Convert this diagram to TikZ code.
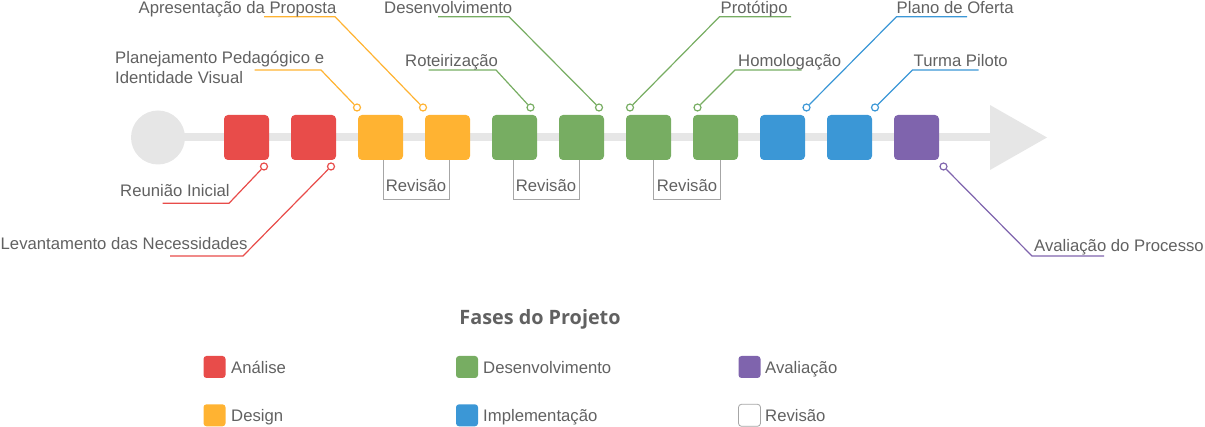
\documentclass[tikz,border=0pt]{standalone}
\usepackage{fontspec}
\setmainfont{Liberation Sans}
\newfontfamily\titlefont{Open Sans}
\definecolor{cred}{HTML}{E84C4A}
\definecolor{corange}{HTML}{FFB332}
\definecolor{cgreen}{HTML}{77AD62}
\definecolor{cblue}{HTML}{3B97D6}
\definecolor{cpurple}{HTML}{7F64AD}
\definecolor{lgray}{HTML}{E6E6E6}
\definecolor{txt}{HTML}{616161}
\definecolor{brk}{HTML}{A6A6A6}
\tikzset{
  sq/.style={rectangle, rounded corners=4, minimum size=45, inner sep=0},
  mk/.style={circle, draw, fill=white, line width=1.2, minimum size=7, inner sep=0},
  lbl/.style={anchor=base west, inner sep=0, text=txt, font=\fontsize{16.7}{19}\selectfont},
  lblc/.style={anchor=base, inner sep=0, text=txt, font=\fontsize{16.7}{19}\selectfont},
  co/.style={line width=1.2},
  brline/.style={brk, line width=1},
  sw/.style={rectangle, rounded corners=3, minimum size=22, inner sep=0},
}
\begin{document}
\begin{tikzpicture}[x=1pt,y=-1pt]
\useasboundingbox (0,0) rectangle (1205,427);
% axis
\node[circle, fill=lgray, minimum size=54, inner sep=0] (start) at (158,137.5) {};
\coordinate (abase) at (992,137.5);
\draw[lgray, line width=8] (start.center) -- (abase);
\fill[lgray] (990,105) -- (1047,137.5) -- (990,170) -- cycle;
% squares
\node[sq, fill=cred] (s1) at (246.5,137.5) {};
\node[sq, fill=cred] (s2) at (313.5,137.5) {};
\node[sq, fill=corange] (s3) at (380.5,137.5) {};
\node[sq, fill=corange] (s4) at (447.5,137.5) {};
\node[sq, fill=cgreen] (s5) at (514.5,137.5) {};
\node[sq, fill=cgreen] (s6) at (581.5,137.5) {};
\node[sq, fill=cgreen] (s7) at (648.5,137.5) {};
\node[sq, fill=cgreen] (s8) at (715.5,137.5) {};
\node[sq, fill=cblue] (s9) at (782.5,137.5) {};
\node[sq, fill=cblue] (s10) at (849.5,137.5) {};
\node[sq, fill=cpurple] (s11) at (916.5,137.5) {};
% review brackets
\coordinate (ra1) at (383,160); \coordinate (ra2) at (383,200); \coordinate (ra3) at (449,200); \coordinate (ra4) at (449,160);
\draw[brline] (ra1) -- (ra2) -- (ra3) -- (ra4);
\node[lblc] (rv1) at (416,191.7) {Revisão};
\coordinate (rb1) at (513,160); \coordinate (rb2) at (513,200); \coordinate (rb3) at (579.5,200); \coordinate (rb4) at (579.5,160);
\draw[brline] (rb1) -- (rb2) -- (rb3) -- (rb4);
\node[lblc] (rv2) at (546,191.7) {Revisão};
\coordinate (rc1) at (653.5,160); \coordinate (rc2) at (653.5,200); \coordinate (rc3) at (720,200); \coordinate (rc4) at (720,160);
\draw[brline] (rc1) -- (rc2) -- (rc3) -- (rc4);
\node[lblc] (rv3) at (687,191.7) {Revisão};
% top callouts
\node[mk, draw=corange] (m1) at (357,107.5) {};
\coordinate (e1) at (321,70); \coordinate (f1) at (254.5,70);
\draw[co, corange] (m1) -- (e1) -- (f1);
\node[lbl] (t1a) at (115,63.3) {Planejamento Pedagógico e};
\node[lbl] (t1b) at (115,83.3) {Identidade Visual};

\node[mk, draw=corange] (m2) at (423,107.5) {};
\coordinate (e2) at (335,16.7); \coordinate (f2) at (264,16.7);
\draw[co, corange] (m2) -- (e2) -- (f2);
\node[lbl] (t2) at (138.5,14) {Apresentação da Proposta};

\node[mk, draw=cgreen] (m3) at (530.5,107.5) {};
\coordinate (e3) at (496,70); \coordinate (f3) at (428.5,70);
\draw[co, cgreen] (m3) -- (e3) -- (f3);
\node[lbl] (t3) at (405,66.7) {Roteirização};

\node[mk, draw=cgreen] (m4) at (599,107.5) {};
\coordinate (e4) at (509,16.7); \coordinate (f4) at (438,16.7);
\draw[co, cgreen] (m4) -- (e4) -- (f4);
\node[lbl] (t4) at (384,14) {Desenvolvimento};

\node[mk, draw=cgreen] (m5) at (630,107.5) {};
\coordinate (e5) at (719.5,16.7); \coordinate (f5) at (791,16.7);
\draw[co, cgreen] (m5) -- (e5) -- (f5);
\node[lbl] (t5) at (720.5,14) {Protótipo};

\node[mk, draw=cgreen] (m6) at (697.5,107.5) {};
\coordinate (e6) at (735,70); \coordinate (f6) at (801.5,70);
\draw[co, cgreen] (m6) -- (e6) -- (f6);
\node[lbl] (t6) at (738,66.7) {Homologação};

\node[mk, draw=cblue] (m7) at (806.5,107.5) {};
\coordinate (e7) at (896.5,16.7); \coordinate (f7) at (967,16.7);
\draw[co, cblue] (m7) -- (e7) -- (f7);
\node[lbl] (t7) at (896.5,14) {Plano de Oferta};

\node[mk, draw=cblue] (m8) at (875,107.5) {};
\coordinate (e8) at (912.5,70); \coordinate (f8) at (978.5,70);
\draw[co, cblue] (m8) -- (e8) -- (f8);
\node[lbl] (t8) at (913.5,66.7) {Turma Piloto};
% bottom callouts
\node[mk, draw=cred] (m9) at (264,166.5) {};
\coordinate (e9) at (229,203.3); \coordinate (f9) at (162.5,203.3);
\draw[co, cred] (m9) -- (e9) -- (f9);
\node[lbl] (t9) at (120,197) {Reunião Inicial};

\node[mk, draw=cred] (m10) at (331,166.5) {};
\coordinate (e10) at (243,256); \coordinate (f10) at (170,256);
\draw[co, cred] (m10) -- (e10) -- (f10);
\node[lbl] (t10) at (0.5,250) {Levantamento das Necessidades};

\node[mk, draw=cpurple] (m11) at (943.5,166.5) {};
\coordinate (e11) at (1032,256); \coordinate (f11) at (1104,256);
\draw[co, cpurple] (m11) -- (e11) -- (f11);
\node[lbl] (t11) at (1034,251.7) {Avaliação do Processo};
% legend
\node[anchor=base, inner sep=0, text=txt, font=\titlefont\bfseries\fontsize{19.8}{23}\selectfont] (title) at (540,325) {Fases do Projeto};
\node[sw, fill=cred] (l1) at (214.5,367) {};
\node[lbl] (lt1) at (231,373.3) {Análise};
\node[sw, fill=corange] (l2) at (214.5,415.3) {};
\node[lbl] (lt2) at (231,421.3) {Design};
\node[sw, fill=cgreen] (l3) at (467,367) {};
\node[lbl] (lt3) at (483,373.3) {Desenvolvimento};
\node[sw, fill=cblue] (l4) at (467,415.3) {};
\node[lbl] (lt4) at (483,421.3) {Implementação};
\node[sw, fill=cpurple] (l5) at (749.5,367) {};
\node[lbl] (lt5) at (765,373.3) {Avaliação};
\node[sw, fill=white, draw=brk, line width=0.8] (l6) at (749.5,415.3) {};
\node[lbl] (lt6) at (765,421.3) {Revisão};
\end{tikzpicture}
\end{document}
